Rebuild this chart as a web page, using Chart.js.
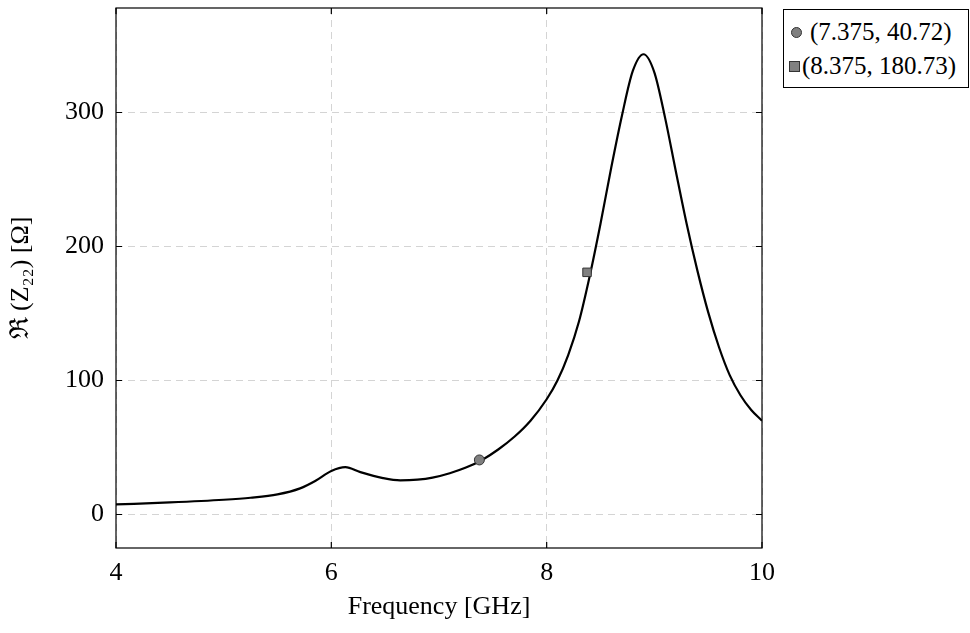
<!DOCTYPE html>
<html>
<head>
<meta charset="utf-8">
<script src="https://cdn.jsdelivr.net/npm/chart.js@4.4.1/dist/chart.umd.min.js"></script>
<style>
  body { margin: 0; background: #fff; }
  #wrap { position: relative; width: 970px; height: 633px; }
  #legend {
    position: absolute; left: 783px; top: 9px; width: 184px; height: 77px;
    border: 1px solid #000; background: #fff;
    font-family: "Liberation Serif", "DejaVu Serif", serif; font-size: 25px; color: #000;
  }
  .row { position: absolute; left: 0; height: 30px; line-height: 30px; white-space: nowrap; }
  .mk { display: inline-block; background: #808080; border: 1px solid #333; vertical-align: middle; }
  .circ { width: 9px; height: 9px; border-radius: 50%; margin: 0 8px 3px 7px; }
  .sq { width: 9px; height: 9px; margin: 0 2px 3px 5px; }
</style>
</head>
<body>
<div id="wrap">
  <canvas id="c" width="970" height="633"></canvas>
  <div id="legend">
    <div class="row" style="top:7px"><span class="mk circ"></span>(7.375, 40.72)</div>
    <div class="row" style="top:41px"><span class="mk sq"></span>(8.375, 180.73)</div>
  </div>
</div>
<script>
// curve
var freq = [4.0, 4.5, 5.0, 5.25, 5.5, 5.71, 5.85, 6.0, 6.13, 6.27, 6.48, 6.64, 6.8, 6.94, 7.10, 7.25, 7.40,
            7.55, 7.70, 7.85, 8.0, 8.1, 8.2, 8.3, 8.4, 8.5, 8.6, 8.7, 8.8, 8.9,
            9.0, 9.1, 9.2, 9.3, 9.4, 9.5, 9.6, 9.7, 9.8, 9.9, 10.0];
var reZ22 = [7.5, 9, 11, 12.5, 15, 19.5, 25, 32.5, 35.3, 31.6, 27.2, 25.5, 26, 27.5, 30.8, 35, 40.7,
             48.5, 58, 70, 86, 100, 119, 144, 178, 217, 259, 298, 331, 343.5,
             330, 296, 256, 217, 182, 151, 125, 104, 89, 78, 70];
var markPts = [[7.375, 40.72], [8.375, 180.73]];
var markStyles = ['circle', 'rect'];
var xTicks = [4, 6, 8, 10];
var yTicks = [0, 100, 200, 300];

var serif = '"Liberation Serif", "DejaVu Serif", serif';

var curve = [];
for (var i = 0; i < freq.length; i++) {
    curve.push({x: freq[i], y: reZ22[i]});
}
var marks = markPts.map(function(p) { return {x: p[0], y: p[1]}; });

// frame on all four sides plus short inward ticks, like pgfplots
var framePlugin = {
    id: 'frame',
    afterDatasetsDraw: function(chart) {
        var ctx = chart.ctx, a = chart.chartArea;
        var xs = chart.scales.x, ys = chart.scales.y;
        ctx.save();
        ctx.strokeStyle = '#000';
        ctx.lineWidth = 1.2;
        ctx.strokeRect(a.left, a.top, a.right - a.left, a.bottom - a.top);
        ctx.beginPath();
        xTicks.forEach(function(v) {
            var px = xs.getPixelForValue(v);
            ctx.moveTo(px, a.bottom); ctx.lineTo(px, a.bottom - 6);
            ctx.moveTo(px, a.top); ctx.lineTo(px, a.top + 6);
        });
        yTicks.forEach(function(v) {
            var py = ys.getPixelForValue(v);
            ctx.moveTo(a.left, py); ctx.lineTo(a.left + 6, py);
            ctx.moveTo(a.right, py); ctx.lineTo(a.right - 6, py);
        });
        ctx.stroke();
        ctx.restore();
    }
};

var chart = new Chart(document.getElementById('c'), {
    type: 'scatter',
    data: {
        datasets: [{
            label: 'Re Z22',
            data: curve,
            showLine: true,
            borderColor: '#000',
            borderWidth: 2.2,
            pointRadius: 0,
            cubicInterpolationMode: 'monotone',
            order: 2
        }, {
            label: 'markers',
            data: marks,
            showLine: false,
            pointStyle: markStyles,
            pointRadius: [5, 6],
            backgroundColor: '#808080',
            borderColor: '#333',
            borderWidth: 1,
            order: 1
        }]
    },
    options: {
        responsive: false,
        animation: false,
        layout: { padding: { top: 8, right: 208, left: 0, bottom: 0 } },
        plugins: { legend: { display: false }, tooltip: { enabled: false } },
        scales: {
            x: {
                type: 'linear', min: 4, max: 10,
                afterBuildTicks: function(s) { s.ticks = xTicks.map(function(v) { return {value: v}; }); },
                afterFit: function(s) { s.height = 85; s.paddingLeft = 0; s.paddingRight = 0; },
                grid: { color: '#d4d4d4', lineWidth: 1, drawTicks: false },
                border: { display: false, dash: [7, 5] },
                ticks: { padding: 10, color: '#000', font: { family: serif, size: 26 }, maxRotation: 0 },
                title: { display: true, text: 'Frequency [GHz]', color: '#000',
                         font: { family: serif, size: 26 }, padding: { top: 0, bottom: 10 } }
            },
            y: {
                type: 'linear', min: -25, max: 378,
                afterBuildTicks: function(s) { s.ticks = yTicks.map(function(v) { return {value: v}; }); },
                afterFit: function(s) { s.width = 116; s.paddingTop = 0; s.paddingBottom = 0; },
                grid: { color: '#d4d4d4', lineWidth: 1, drawTicks: false },
                border: { display: false, dash: [7, 5] },
                ticks: { padding: 12, color: '#000', font: { family: serif, size: 26 } },
                title: { display: true, text: 'ℜ (Z₂₂) [Ω]', color: '#000',
                         font: { family: serif, size: 26 }, padding: { top: 6, bottom: 0 } }
            }
        }
    },
    plugins: [framePlugin]
});
</script>
</body>
</html>
